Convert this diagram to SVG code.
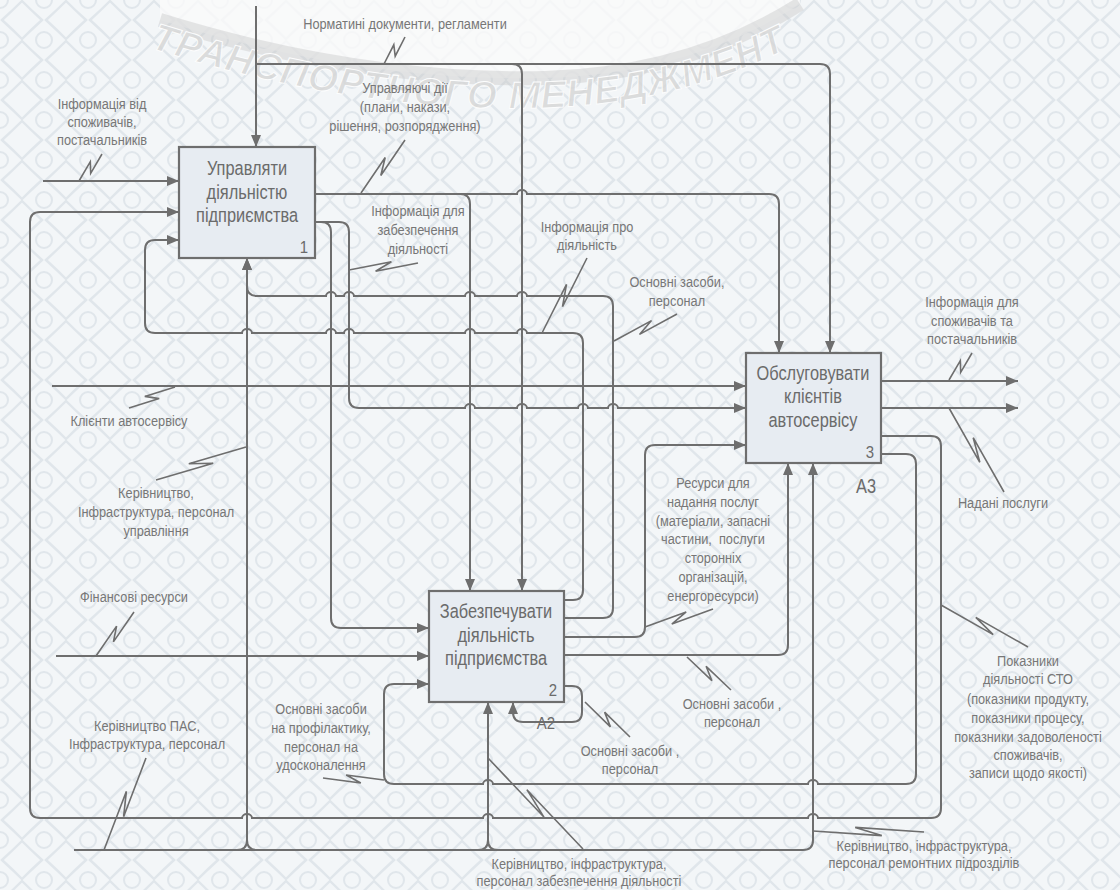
<svg xmlns="http://www.w3.org/2000/svg" width="1120" height="890" viewBox="0 0 1120 890">
<defs>
<pattern id="bg" width="44" height="40" patternUnits="userSpaceOnUse">
<rect width="44" height="40" fill="#f3f6f8"/>
<path d="M22 1 Q31 10 42 20 Q31 30 22 39 Q13 30 2 20 Q13 10 22 1Z" fill="none" stroke="#e0e6eb" stroke-width="2.4"/>
<circle cx="0" cy="0" r="8" fill="none" stroke="#e0e6eb" stroke-width="2"/>
<circle cx="44" cy="0" r="8" fill="none" stroke="#e0e6eb" stroke-width="2"/>
<circle cx="0" cy="40" r="8" fill="none" stroke="#e0e6eb" stroke-width="2"/>
<circle cx="44" cy="40" r="8" fill="none" stroke="#e0e6eb" stroke-width="2"/>
</pattern>
<marker id="ah" viewBox="0 0 12 10" refX="12" refY="5" markerWidth="12" markerHeight="10" markerUnits="userSpaceOnUse" orient="auto">
<path d="M0,0 L12,5 L0,10 z" fill="#6e6e6e"/>
</marker>
<path id="wm" d="M150 48 Q360 114 545 108 Q690 102 800 42" fill="none"/>
</defs>
<style>
.ln{fill:none;stroke:#6e6e6e;stroke-width:2}
.ar{marker-end:url(#ah)}
.sq{fill:none;stroke:#6e6e6e;stroke-width:1.6;stroke-linejoin:miter}
.box{fill:#e7ecf2;stroke:#6e6e6e;stroke-width:2.2}
.bt,.nm,.lb{transform-box:fill-box;transform-origin:center}
.bt{font-family:'Liberation Sans',sans-serif;font-size:19.5px;fill:#6b6b6b;text-anchor:middle;transform:scaleX(0.84)}
.nm{font-family:'Liberation Sans',sans-serif;font-size:17px;fill:#6b6b6b;text-anchor:middle;transform:scaleX(0.88)}
.lb{font-family:'Liberation Sans',sans-serif;font-size:14.5px;fill:#777;text-anchor:middle;white-space:pre;transform:scaleX(0.88)}
.wmt{font-family:'Liberation Sans',sans-serif;font-weight:bold;font-style:italic;font-size:38px;fill:#d6d6d6;stroke:#ffffff;stroke-width:1}
</style>
<rect width="1120" height="890" fill="url(#bg)"/>
<g id="watermark" opacity="0.8">
<path d="M160 0 L160 20 Q360 82 545 78 Q690 74 800 4 L800 0 Z" fill="#fbfbfb"/>
<path d="M160 20 Q360 82 545 78 Q690 74 800 4" fill="none" stroke="#cacaca" stroke-width="14" opacity="0.55"/>
<text class="wmt"><textPath href="#wm" textLength="680" lengthAdjust="spacing">ТРАНСПОРТНОГО МЕНЕДЖМЕНТУ</textPath></text>
</g>

<g id="connectors">
<path class="ln ar" d="M256 6 V147"/>
<path class="ln ar" d="M256 64 H820 Q830 64 830 74 V353"/>
<path class="ln ar" d="M512 64 Q522 64 522 74 V591"/>
<path class="ln ar" d="M315 194 H517 a5 4 0 0 1 10 0 H769 Q779 194 779 204 V353"/>
<path class="ln ar" d="M460 194 Q470 194 470 204 V591"/>
<path class="ln ar" d="M315 222 H321 Q331 222 331 232 V618 Q331 628 341 628 H429"/>
<path class="ln ar" d="M321 222 H339 Q349 222 349 232 V398 Q349 408 359 408 H465 a5 4 0 0 1 10 0 H517 a5 4 0 0 1 10 0 H578 a5 4 0 0 1 10 0 H608 a5 4 0 0 1 10 0 H746"/>
<path class="ln ar" d="M564 618 H603 Q613 618 613 608 V306 Q613 296 603 296 H527 a5 4 0 0 0 -10 0 H475 a5 4 0 0 0 -10 0 H354 a5 4 0 0 0 -10 0 H336 a5 4 0 0 0 -10 0 H257 Q247 296 247 286 V258"/>
<path class="ln ar" d="M74 850 H803 Q813 850 813 840 V463"/>
<path class="ln ar" d="M237 850 Q247 850 247 840 V258"/>
<path class="ln" d="M247 840 Q247 850 257 850"/>
<path class="ln ar" d="M478 850 Q488 850 488 840 V702"/>
<path class="ln" d="M488 840 Q488 850 498 850"/>
<path class="ln ar" d="M881 436 H931 Q941 436 941 446 V808 Q941 818 931 818 H818 a5 4 0 0 0 -10 0 H493 a5 4 0 0 0 -10 0 H252 a5 4 0 0 0 -10 0 H40 Q30 818 30 808 V222 Q30 212 40 212 H179"/>
<path class="ln ar" d="M881 454 H906 Q916 454 916 464 V774 Q916 784 906 784 H818 a5 4 0 0 0 -10 0 H493 a5 4 0 0 0 -10 0 H394 Q384 784 384 774 V694 Q384 684 394 684 H429"/>
<path class="ln ar" d="M564 600 H573 Q583 600 583 590 V343 Q583 333 573 333 H527 a5 4 0 0 0 -10 0 H475 a5 4 0 0 0 -10 0 H354 a5 4 0 0 0 -10 0 H336 a5 4 0 0 0 -10 0 H252 a5 4 0 0 0 -10 0 H155 Q145 333 145 323 V250 Q145 240 155 240 H179"/>
<path class="ln ar" d="M564 637 H635 Q645 637 645 627 V455 Q645 445 655 445 H746"/>
<path class="ln ar" d="M564 655 H778 Q788 655 788 645 V463"/>
<path class="ln ar" d="M564 686 H572 Q582 686 582 696 V712 Q582 722 572 722 H523 Q513 722 513 712 V702"/>
<path class="ln ar" d="M52 386 H746"/>
<path class="ln ar" d="M43 181 H179"/>
<path class="ln ar" d="M56 656 H429"/>
<path class="ln ar" d="M881 381 H1018"/>
<path class="ln ar" d="M881 408 H1018"/>
<path class="sq" d="M405 37 L395.2 56.2 L393.8 44.8 L384 64"/>
<path class="sq" d="M102 154 L90.7 173.3 L90.3 161.7 L79 181"/>
<path class="sq" d="M405 140 L380.8 175.5 L385.2 157.5 L361 193"/>
<path class="sq" d="M418 263 L375.6 271.3 L391.4 261.7 L349 270"/>
<path class="sq" d="M587 258 L562.5 306.6 L566.5 284.4 L542 333"/>
<path class="sq" d="M677 314 L639.5 334.4 L651.5 320.6 L614 341"/>
<path class="sq" d="M129 408 L159.2 398.6 L144.8 396.4 L175 387"/>
<path class="sq" d="M156 480 L213.2 463.3 L188.8 463.7 L246 447"/>
<path class="sq" d="M134 612 L113.4 641.9 L116.6 626.1 L96 656"/>
<path class="sq" d="M146 758 L123.6 816.7 L126.4 791.3 L104 850"/>
<path class="sq" d="M323 778 L360.8 783 L346.2 775 L384 780"/>
<path class="sq" d="M713 609 L671.8 624.1 L686.2 611.9 L645 627"/>
<path class="sq" d="M687 657 L711.9 680.7 L706.1 666.3 L731 690"/>
<path class="sq" d="M585 702 L610.4 726.9 L604.6 712.1 L630 737"/>
<path class="sq" d="M488 758 L544.1 817.3 L526.9 789.7 L583 849"/>
<path class="sq" d="M813 831 L881.8 835.6 L855.2 827.4 L924 832"/>
<path class="sq" d="M941 605 L993.2 634.6 L975.8 617.4 L1028 647"/>
<path class="sq" d="M972 353 L960.7 372.3 L960.3 360.7 L949 380"/>
<path class="sq" d="M1004 492 L973.2 437.7 L979.8 462.3 L949 408"/>
</g>

<g id="node1">
<rect class="box" x="179" y="147" width="136" height="111"/>
<text class="bt" x="247" y="175">Управляти</text>
<text class="bt" x="247" y="199">діяльністю</text>
<text class="bt" x="247" y="222">підприємства</text>
<text class="nm" x="304" y="253">1</text>
</g>
<g id="node2">
<rect class="box" x="429" y="591" width="135" height="111"/>
<text class="bt" x="496" y="618">Забезпечувати</text>
<text class="bt" x="496" y="642">діяльність</text>
<text class="bt" x="496" y="665">підприємства</text>
<text class="nm" x="553" y="696">2</text>
<text class="nm" x="546" y="729">A2</text>
</g>
<g id="node3">
<rect class="box" x="746" y="353" width="135" height="110"/>
<text class="bt" x="813" y="380">Обслуговувати</text>
<text class="bt" x="813" y="403">клієнтів</text>
<text class="bt" x="813" y="427">автосервісу</text>
<text class="nm" x="870" y="458">3</text>
<text class="bt" x="866" y="493">A3</text>
</g>

<g id="labels">
<text class="lb" x="405" y="29">Норматині документи, регламенти</text>
<text class="lb" x="102" y="109">Інформація від</text>
<text class="lb" x="102" y="127">споживачів,</text>
<text class="lb" x="102" y="145">постачальників</text>
<text class="lb" x="405" y="93">Управляючі дії</text>
<text class="lb" x="405" y="112">(плани, накази,</text>
<text class="lb" x="405" y="131">рішення, розпорядження)</text>
<text class="lb" x="418" y="216">Інформація для</text>
<text class="lb" x="418" y="235">забезпечення</text>
<text class="lb" x="418" y="254">діяльності</text>
<text class="lb" x="587" y="232">Інформація про</text>
<text class="lb" x="587" y="250">діяльність</text>
<text class="lb" x="677" y="287">Основні засоби,</text>
<text class="lb" x="677" y="306">персонал</text>
<text class="lb" x="972" y="307">Інформація для</text>
<text class="lb" x="972" y="326">споживачів та</text>
<text class="lb" x="972" y="344">постачальників</text>
<text class="lb" x="129" y="426">Клієнти автосервісу</text>
<text class="lb" x="156" y="498">Керівництво,</text>
<text class="lb" x="156" y="517">Інфраструктура, персонал</text>
<text class="lb" x="156" y="536">управління</text>
<text class="lb" x="1003" y="508">Надані послуги</text>
<text class="lb" x="713" y="488">Ресурси для</text>
<text class="lb" x="713" y="507">надання послуг</text>
<text class="lb" x="713" y="526">(матеріали, запасні</text>
<text class="lb" x="713" y="544">частини,  послуги</text>
<text class="lb" x="713" y="563">сторонніх</text>
<text class="lb" x="713" y="582">організацій,</text>
<text class="lb" x="713" y="601">енергоресурси)</text>
<text class="lb" x="134" y="602">Фінансові ресурси</text>
<text class="lb" x="321" y="714">Основні засоби</text>
<text class="lb" x="321" y="733">на профілактику,</text>
<text class="lb" x="321" y="752">персонал на</text>
<text class="lb" x="321" y="770">удосконалення</text>
<text class="lb" x="147" y="731">Керівництво ПАС,</text>
<text class="lb" x="147" y="749">Інфраструктура, персонал</text>
<text class="lb" x="732" y="709">Основні засоби ,</text>
<text class="lb" x="732" y="727">персонал</text>
<text class="lb" x="630" y="756">Основні засоби ,</text>
<text class="lb" x="630" y="774">персонал</text>
<text class="lb" x="1028" y="666">Показники</text>
<text class="lb" x="1028" y="684">діяльності СТО</text>
<text class="lb" x="1028" y="704">(показники продукту,</text>
<text class="lb" x="1028" y="723">показники процесу,</text>
<text class="lb" x="1028" y="742">показники задоволеності</text>
<text class="lb" x="1028" y="760">споживачів,</text>
<text class="lb" x="1028" y="778">записи щодо якості)</text>
<text class="lb" x="924" y="851">Керівництво, інфраструктура,</text>
<text class="lb" x="924" y="868">персонал ремонтних підрозділів</text>
<text class="lb" x="579" y="869">Керівництво, інфраструктура,</text>
<text class="lb" x="579" y="886">персонал забезпечення діяльності</text>
</g>
</svg>
